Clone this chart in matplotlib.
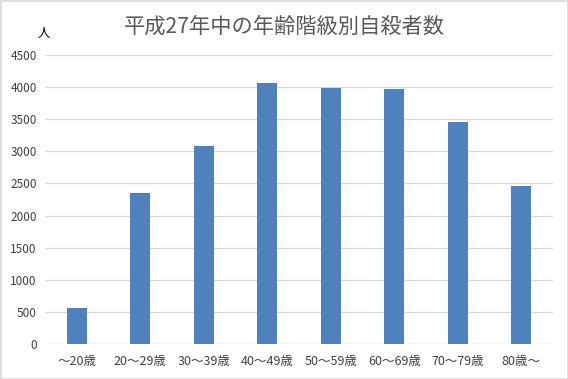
import matplotlib
matplotlib.use("Agg")
import matplotlib.pyplot as plt
from matplotlib.patches import Rectangle

plt.rcParams['font.family'] = ['Noto Sans CJK JP', 'DejaVu Sans']

categories = ["〜20歳", "20〜29歳", "30〜39歳", "40〜49歳", "50〜59歳", "60〜69歳", "70〜79歳", "80歳〜"]
values = [554, 2352, 3087, 4069, 3979, 3973, 3451, 2465]
yticks = [0, 500, 1000, 1500, 2000, 2500, 3000, 3500, 4000, 4500]

W, H = 568, 379
fig = plt.figure(figsize=(W/100, H/100), dpi=100)
ax = fig.add_axes([45/W, (H-344)/H, (553-45)/W, (344-55)/H])

x = list(range(len(categories)))
ax.bar(x, values, width=0.31, color="#4f81bd", zorder=3)
ax.set_xlim(-0.5, len(categories)-0.5)
ax.set_ylim(0, 4500)
ax.set_yticks(yticks)
ax.set_yticklabels([str(v) for v in yticks], fontsize=8.5, color="#404040")
ax.set_xticks(x)
ax.set_xticklabels(categories, fontsize=9, color="#404040")
ax.tick_params(axis='x', length=0, pad=8)
ax.tick_params(axis='y', length=0, pad=6)
ax.yaxis.grid(True, color="#d9d9d9", linewidth=0.9, zorder=0)
for s in ax.spines.values():
    s.set_visible(False)
ax.axhline(0, color="#d9d9d9", linewidth=0.9, zorder=2)

fig.text(0.5, 1-27/H, "平成27年中の年齢階級別自殺者数", ha="center", va="center",
         fontsize=15.3, color="#595959")
fig.text(44/W, 1-33/H, "人", ha="center", va="center", fontsize=9, color="black")

fig.patches.append(Rectangle((0.5/W, 0.5/H), 1-1/W, 1-1/H, transform=fig.transFigure,
                             fill=False, edgecolor="#d9d9d9", linewidth=1.2))

fig.savefig("out.png", dpi=100)
